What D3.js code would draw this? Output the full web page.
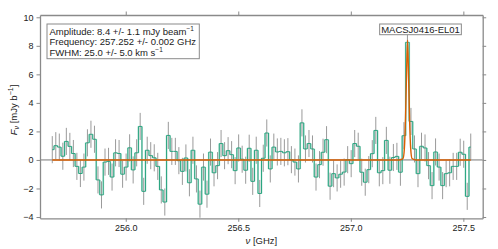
<!DOCTYPE html>
<html>
<head>
<meta charset="utf-8">
<script src="https://cdn.jsdelivr.net/npm/d3@7"></script>
<style>
  body { margin: 0; background: #fff; }
  text { font-family: "Liberation Sans", Arial, sans-serif; fill: #222; }
</style>
</head>
<body>
<div id="spectrum"></div>
<script>
/*channel grid of the spectrum (GHz)*/
var firstChannel = 255.6735;
var channelWidth = 0.015625;

/*flux density per channel in mJy/beam*/
var fluxValues = [
  0.72, 1.0, 0.9, 0.26, 1.3, 0.95, 0.45, -0.45, -0.95, -0.5, 1.2, 1.8,
  1.45, -1.4, -2.45, -0.15, -0.1, -1.2, 0.5, 0.45, -1.0, -0.5, 0.85, -0.7,
  0.5, 2.35, -2.2, 0.68, 0.3, 0.15, -0.45, -2.1, -2.95, 1.72, 0.6, 0.6,
  -0.05, -0.8, 0.14, -1.6, 0.68, -1.33, -3.1, -0.5, -2.4, 0.55, -0.9, -0.4,
  1.15, 0.3, 0.65, 0.37, -0.75, 0.84, 0.05, -0.72, 0.82, -1.5, 0.68, -2.35,
  0.12, 1.89, -0.63, 0.9, 0.56, 0.6, 0.5, 0.58, 0.02, -0.15, -0.63, 2.6,
  0.77, 1.15, 0.77, -1.2, -0.33, 0.54, 1.42, -1.84, -0.96, -1.26, -1.0, -0.85,
  0.02, -0.26, 1.15, 0.96, -0.86, -1.56, -0.68, 0.44, 2.07, -0.9, -0.75, 1.37,
  -0.72, 0.17, 0.25, -0.86, 1.7, 8.25, 2.7, 0.77, -0.96, 0.96, 0.84, -0.4,
  -1.8, 0.56, -0.5, -1.8, -0.96, -0.9, -0.45, -0.45, 0.54, 0.4, -2.55, 0.9
];

/*1 sigma error of a channel (mJy/beam)*/
var channelError = 0.95;

/*gaussian fit (orange) as drawn: frequency / flux pairs*/
var fitFreq = [255.6735, 257.215, 257.232, 257.238, 257.243, 257.247, 257.252, 257.257, 257.261, 257.266, 257.272, 257.29, 257.5328];
var fitFlux = [0, 0, 0.1, 0.8, 2.9, 5.6, 8.4, 5.6, 2.9, 0.8, 0.1, 0, 0];

/*tick labels*/
var xTicks = [256.0, 256.5, 257.0, 257.5];
var yTicks = [-4, -2, 0, 2, 4, 6, 8, 10];

/*fit results box and source name*/
var fitLines = [
  ["Amplitude: 8.4 +/- 1.1 mJy beam", "\u22121"],
  ["Frequency: 257.252 +/- 0.002 GHz", ""],
  ["FWHM: 25.0 +/- 5.0 km s", "\u22121"]
];
var sourceName = "MACSJ0416-EL01";

/*svg container and plot area*/
var svgWidth = 498;
var svgHeight = 249;
var margin = { top: 15, right: 15.3, bottom: 30.7, left: 40 };
var width = svgWidth - margin.left - margin.right;
var height = svgHeight - margin.top - margin.bottom;

var svg = d3.select("#spectrum").append("svg")
  .attr("width", svgWidth)
  .attr("height", svgHeight);

var plot = svg.append("g")
  .attr("transform", `translate(${margin.left}, ${margin.top})`);

var xScale = d3.scaleLinear().domain([255.619, 257.586]).range([0, width]);
var yScale = d3.scaleLinear().domain([-4.09, 10.16]).range([height, 0]);

var channels = fluxValues.map(function(v, i) {
  return { freq: firstChannel + i * channelWidth, flux: v };
});

var spineColor = "#8a8a8a";

/*zero line across the whole axis*/
plot.append("line")
  .attr("x1", 0).attr("x2", width)
  .attr("y1", yScale(0)).attr("y2", yScale(0))
  .attr("stroke", "#777").attr("stroke-width", 1);

/*error bars*/
plot.selectAll(".err")
  .data(channels)
  .enter()
  .append("line")
  .attr("class", "err")
  .attr("x1", d => xScale(d.freq)).attr("x2", d => xScale(d.freq))
  .attr("y1", d => yScale(d.flux - channelError))
  .attr("y2", d => yScale(d.flux + channelError))
  .attr("stroke", "#9a9a9a")
  .attr("stroke-width", 1);

/*light bands along the vertical jumps of the step line*/
var jumps = channels.slice(1).map(function(d, i) {
  return { freq: (channels[i].freq + d.freq) / 2, a: channels[i].flux, b: d.flux };
});
plot.selectAll(".band")
  .data(jumps)
  .enter()
  .append("rect")
  .attr("class", "band")
  .attr("x", d => xScale(d.freq) - 0.9)
  .attr("width", 1.8)
  .attr("y", d => yScale(Math.max(d.a, d.b)))
  .attr("height", d => Math.abs(yScale(d.a) - yScale(d.b)))
  .attr("fill", "#1b9e77")
  .attr("opacity", 0.3);

/*step spectrum*/
var stepLine = d3.line()
  .x(d => xScale(d.freq))
  .y(d => yScale(d.flux))
  .curve(d3.curveStep);

plot.append("path")
  .datum(channels)
  .attr("d", stepLine)
  .attr("fill", "none")
  .attr("stroke", "#1b9e77")
  .attr("stroke-width", 0.9);

/*gaussian fit*/
var fitLine = d3.line()
  .x(d => xScale(d[0]))
  .y(d => yScale(d[1]))
  .curve(d3.curveMonotoneX);

plot.append("path")
  .datum(fitFreq.map((f, i) => [f, fitFlux[i]]))
  .attr("d", fitLine)
  .attr("fill", "none")
  .attr("stroke", "#d95f02")
  .attr("stroke-width", 1.4);

/*axes on all four sides, ticks pointing out*/
var bottomAxis = d3.axisBottom(xScale).tickValues(xTicks).tickFormat(d3.format(".1f")).tickSize(3.5).tickSizeOuter(0).tickPadding(2.5);
var topAxis = d3.axisTop(xScale).tickValues(xTicks).tickFormat("").tickSize(3.5).tickSizeOuter(0);
var leftAxis = d3.axisLeft(yScale).tickValues(yTicks).tickFormat(d3.format("d")).tickSize(3.5).tickSizeOuter(0).tickPadding(3);
var rightAxis = d3.axisRight(yScale).tickValues(yTicks).tickFormat("").tickSize(3.5).tickSizeOuter(0);

plot.append("g").attr("transform", `translate(0,${height})`).call(bottomAxis);
plot.append("g").call(topAxis);
plot.append("g").call(leftAxis);
plot.append("g").attr("transform", `translate(${width},0)`).call(rightAxis);

plot.selectAll(".domain").attr("stroke", spineColor).attr("stroke-width", 1.3);
plot.selectAll(".tick line").attr("stroke", spineColor);
plot.selectAll(".tick text")
  .style("font-family", "'Liberation Sans', Arial, sans-serif")
  .style("font-size", "9px")
  .attr("fill", "#333");

/*axis labels*/
var xLabel = svg.append("text")
  .attr("x", margin.left + width / 2)
  .attr("y", 244)
  .attr("text-anchor", "middle")
  .style("font-size", "9.5px");
xLabel.append("tspan").style("font-style", "italic").text("\u03bd");
xLabel.append("tspan").text(" [GHz]");

var yLabel = svg.append("text")
  .attr("transform", "translate(16.5,110) rotate(-90)")
  .attr("text-anchor", "middle")
  .style("font-size", "9.5px");
yLabel.append("tspan").style("font-style", "italic").text("F");
yLabel.append("tspan").style("font-style", "italic").style("font-size", "7px").attr("dy", 2).text("\u03bd");
yLabel.append("tspan").attr("dy", -2).text(" [mJy b");
yLabel.append("tspan").style("font-size", "7px").attr("dy", -3.5).text("\u22121");
yLabel.append("tspan").attr("dy", 3.5).text("]");

/*fit results box*/
svg.append("rect")
  .attr("x", 47).attr("y", 24)
  .attr("width", 152.3).attr("height", 34.7)
  .attr("fill", "#fff")
  .attr("stroke", spineColor).attr("stroke-width", 1);

fitLines.forEach(function(line, i) {
  var t = svg.append("text")
    .attr("x", 49.5)
    .attr("y", 34.5 + i * 10.5)
    .style("font-size", "9.5px");
  t.append("tspan").text(line[0]);
  if (line[1]) {
    t.append("tspan").attr("dy", -3.5).style("font-size", "6.5px").text(line[1]);
  }
});

/*source name box: white box behind the label*/
var nameBox = svg.append("rect");
var nameText = svg.append("text")
  .attr("x", 420.5)
  .attr("y", 33)
  .attr("text-anchor", "middle")
  .style("font-size", "9.5px")
  .text(sourceName);
var nb = nameText.node().getBBox();
nameBox
  .attr("x", nb.x - 1.5).attr("y", 24)
  .attr("width", nb.width + 3).attr("height", 10.7)
  .attr("fill", "#fff")
  .attr("stroke", spineColor).attr("stroke-width", 1);
</script>
</body>
</html>
